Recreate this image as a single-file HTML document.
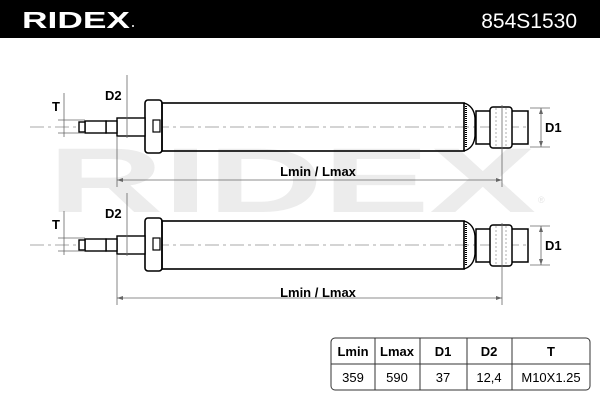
<!DOCTYPE html>
<html><head><style>
body{margin:0;width:600px;height:400px;background:#fff;overflow:hidden;font-family:"Liberation Sans",sans-serif}
</style></head><body>
<svg width="600" height="400" viewBox="0 0 600 400" xmlns="http://www.w3.org/2000/svg" font-family="Liberation Sans, sans-serif">
<rect x="0" y="0" width="600" height="38" fill="#000"/>
<text x="22" y="28" fill="#fff" font-size="23" font-weight="bold" textLength="108" lengthAdjust="spacingAndGlyphs">RIDEX</text>
<circle cx="133" cy="26" r="1" fill="#fff"/>
<text x="577" y="28" fill="#fff" font-size="21" text-anchor="end">854S1530</text>
<text x="48" y="212" fill="#ececec" font-size="92" font-weight="bold" textLength="488" lengthAdjust="spacingAndGlyphs">RIDEX</text>
<text x="538" y="203" fill="#e4e4e4" font-size="9">®</text>
<g id="s" stroke="#000" fill="none">
  <line x1="30" y1="127" x2="530" y2="127" stroke="#aaa" stroke-dasharray="14,4,3,4" stroke-width="1"/>
  <rect x="145" y="100" width="17" height="53" rx="3" fill="#fff" stroke-width="1.6"/>
  <rect x="153" y="120" width="7" height="12" stroke-width="1.2"/>
  <rect x="162" y="103" width="302" height="48" fill="none" stroke-width="1.6"/>
  <path d="M464 103 Q474 106 475 118 L475 136 Q474 148 464 151" stroke-width="1.4" fill="none"/>
  <line x1="466" y1="106" x2="466" y2="148" stroke-width="2" stroke-dasharray="1,1"/>
  <rect x="476" y="111" width="52" height="33" stroke-width="1.5" fill="none"/>
  <rect x="490" y="107" width="22" height="41" rx="3" stroke-width="1.5" fill="#fff"/>
  <line x1="496" y1="108" x2="496" y2="147" stroke="#777" stroke-width="0.6" stroke-dasharray="2,2"/>
  <line x1="506" y1="108" x2="506" y2="147" stroke="#777" stroke-width="0.6" stroke-dasharray="2,2"/>
  <rect x="117" y="118" width="28" height="18" stroke-width="1.4" fill="#fff"/>
  <rect x="106" y="121" width="11" height="12" stroke-width="1.4" fill="#fff"/>
  <rect x="85" y="121" width="21" height="12" stroke-width="1.4" fill="#fff"/>
  <rect x="79" y="122" width="6" height="10" stroke-width="1.4" fill="#fff"/>
  <g stroke="#666" stroke-width="0.8">
   <line x1="64" y1="93" x2="64" y2="137"/><line x1="58" y1="120" x2="85" y2="120"/><line x1="58" y1="133" x2="85" y2="133"/>
   <line x1="127" y1="75" x2="127" y2="138"/>
   <line x1="117" y1="137" x2="117" y2="187"/><line x1="502" y1="105" x2="502" y2="187"/>
   <line x1="117" y1="180" x2="502" y2="180"/>
   <line x1="530" y1="108" x2="550" y2="108"/><line x1="530" y1="147" x2="550" y2="147"/>
   <line x1="541" y1="108" x2="541" y2="147"/>
  </g>
  <g fill="#666" stroke="none">
   <path d="M117 180 l6 -2 v4z"/><path d="M502 180 l-6 -2 v4z"/>
   <path d="M541 108 l-2 6 h4z"/><path d="M541 147 l-2 -6 h4z"/>
  </g>
</g>
<use href="#s" y="118"/>
<g font-weight="bold" font-size="13" fill="#000">
 <text x="52" y="111">T</text><text x="105" y="100">D2</text>
 <text x="318" y="176" text-anchor="middle">Lmin / Lmax</text>
 <text x="545" y="132">D1</text>
 <text x="52" y="229">T</text><text x="105" y="218">D2</text>
 <text x="318" y="297" text-anchor="middle">Lmin / Lmax</text>
 <text x="545" y="250">D1</text>
</g>
<g stroke="#333" stroke-width="1" fill="none">
 <rect x="331" y="338" width="259" height="52" rx="4"/>
 <line x1="331" y1="364" x2="590" y2="364"/>
 <line x1="375" y1="338" x2="375" y2="390"/><line x1="420" y1="338" x2="420" y2="390"/>
 <line x1="467" y1="338" x2="467" y2="390"/><line x1="512" y1="338" x2="512" y2="390"/>
</g>
<g font-size="13" text-anchor="middle" fill="#000">
 <g font-weight="bold"><text x="353" y="356">Lmin</text><text x="397" y="356">Lmax</text><text x="443" y="356">D1</text><text x="489" y="356">D2</text><text x="551" y="356">T</text></g>
 <text x="353" y="382">359</text><text x="397" y="382">590</text><text x="443" y="382">37</text><text x="489" y="382">12,4</text><text x="551" y="382">M10X1.25</text>
</g>
</svg>
</body></html>
